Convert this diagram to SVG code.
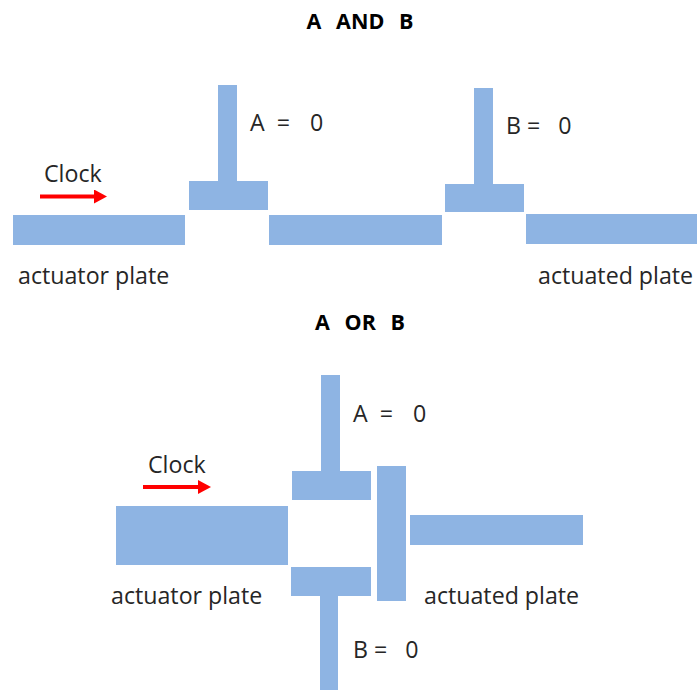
<svg xmlns="http://www.w3.org/2000/svg" width="697" height="690" viewBox="0 0 697 690">
<style>
.p{fill:#8eb4e3}
text{font-family:"Open Sans","Liberation Sans",sans-serif;font-size:23.2px;fill:#262626}
text.h{font-family:"Open Sans","Liberation Sans",Arial,sans-serif;font-weight:bold;font-size:21.500px;word-spacing:1.800px;fill:#000;text-anchor:middle}
.c{stroke:#f00;stroke-width:4;fill:none;marker-end:url(#a)}
</style>
<defs><marker id="a" markerUnits="userSpaceOnUse" markerWidth="13" markerHeight="14" refX="0" refY="7" orient="auto"><path d="M0 0L13 7L0 14z" fill="#f00"/></marker></defs>
<rect width="697" height="690" fill="#fff"/>
<text class="h" x="360" y="29" xml:space="preserve">A  AND  B</text>
<text class="h" x="360" y="330" xml:space="preserve">A  OR  B</text>
<g id="top-actuator"><rect class="p" x="13" y="215" width="172" height="30"/><text x="18" y="284">actuator plate</text></g>
<g id="top-gate-a"><rect class="p" x="218" y="85" width="19" height="97"/><rect class="p" x="189" y="181" width="79" height="29"/><text x="250" y="131" xml:space="preserve">A  =   <tspan dx="2">0</tspan></text></g>
<g id="top-middle"><rect class="p" x="269" y="215" width="173" height="30"/></g>
<g id="top-gate-b"><rect class="p" x="474" y="88" width="19" height="97"/><rect class="p" x="445" y="184" width="79" height="28"/><text x="506" y="134" xml:space="preserve">B =   0</text></g>
<g id="top-actuated"><rect class="p" x="526" y="214" width="171" height="30"/><text x="538" y="284">actuated plate</text></g>
<g id="bottom-actuator"><rect class="p" x="116" y="506" width="172" height="59"/><text x="111" y="604">actuator plate</text></g>
<g id="bottom-gate-a"><rect class="p" x="321" y="375" width="19" height="97"/><rect class="p" x="292" y="471" width="79" height="29"/><text x="353" y="422" xml:space="preserve">A  =   <tspan dx="2">0</tspan></text></g>
<g id="bottom-gate-b"><rect class="p" x="320" y="595" width="18" height="95"/><rect class="p" x="291" y="567" width="80" height="29"/><text x="353" y="658" xml:space="preserve">B =   0</text></g>
<g id="bottom-actuated"><rect class="p" x="377" y="466" width="29" height="135"/><rect class="p" x="410" y="515" width="173" height="30"/><text x="424" y="604">actuated plate</text></g>
<g id="clock-top"><text x="44" y="182">Clock</text></g>
<g id="clock-bottom"><text x="148" y="473">Clock</text></g>
<g id="connectors"><line class="c" x1="40" y1="196.500" x2="94" y2="196.500"/><line class="c" x1="143" y1="487" x2="198" y2="487"/></g>
</svg>
